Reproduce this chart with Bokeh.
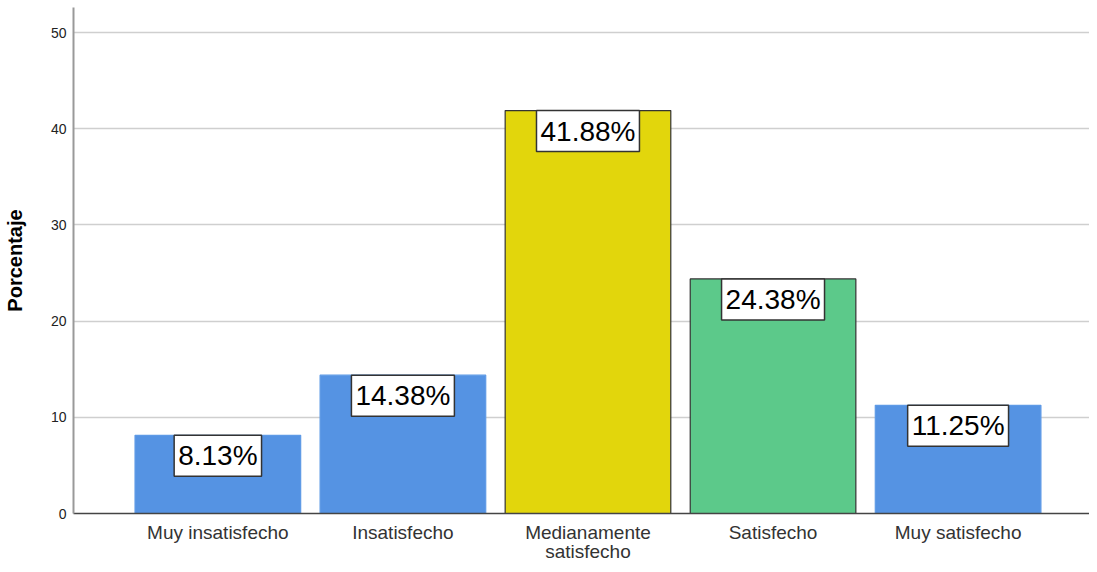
from bokeh.plotting import figure
from bokeh.models import ColumnDataSource, FixedTicker, Range1d, LinearAxis
from bokeh.embed import file_html
from bokeh.resources import INLINE
from bokeh.core.properties import value

categories = ["Muy insatisfecho", "Insatisfecho", "Medianamente\nsatisfecho", "Satisfecho", "Muy satisfecho"]
percentages = [8.13, 14.38, 41.88, 24.38, 11.25]
bar_colors = ["#5593E3", "#5593E3", "#E2D60C", "#5CC98A", "#5593E3"]
bar_lines = ["#5E9AE6", "#5E9AE6", "#333333", "#333333", "#5E9AE6"]
y_ticks = [0, 10, 20, 30, 40, 50]

xs = list(range(1, len(categories) + 1))
src = ColumnDataSource(dict(
    x=xs, top=percentages, color=bar_colors, line=bar_lines,
    label=[f"{v:.2f}%" for v in percentages],
))

# split category names into first and second line (shown on two stacked axes)
first_lines = {x: c.split("\n")[0] for x, c in zip(xs, categories)}
second_lines = {x: (c.split("\n")[1] if "\n" in c else "") for x, c in zip(xs, categories)}

p = figure(width=1089, height=564, output_backend="svg", toolbar_location=None,
           x_range=Range1d(0.22, 5.71), y_range=Range1d(0, 52.6),
           min_border_left=65, min_border_right=0, min_border_top=7, min_border_bottom=51)
p.outline_line_color = None
p.background_fill_color = "white"

p.vbar(x="x", top="top", bottom=0, width=0.895, source=src,
       fill_color="color", line_color="line", line_width=1.2)

p.text(x="x", y="top", text="label", source=src,
       text_align="center", text_baseline="top",
       text_font=value("Liberation Sans"), text_font_size="28px", text_color="black",
       background_fill_color="white", border_line_color="#333333", border_line_width=1.5,
       padding=dict(left=4, right=4, top=5, bottom=5))

def style_x(ax, standoff):
    ax.ticker = FixedTicker(ticks=xs)
    ax.major_label_text_font = "Liberation Sans"
    ax.major_label_text_font_size = "19px"
    ax.major_label_text_color = "#333333"
    ax.major_label_standoff = standoff
    ax.major_tick_out = 0
    ax.major_tick_in = 0
    ax.major_tick_line_color = None
    ax.minor_tick_line_color = None

xa = p.xaxis[0]
style_x(xa, 8)
xa.major_label_overrides = first_lines
xa.axis_line_color = "#444444"
xa.axis_line_width = 1.5

xa2 = LinearAxis()
style_x(xa2, -5)
xa2.major_label_overrides = second_lines
xa2.axis_line_color = None
p.add_layout(xa2, "below")

p.yaxis.ticker = FixedTicker(ticks=y_ticks)
p.yaxis.major_label_text_font = "Liberation Sans"
p.yaxis.major_label_text_font_size = "14px"
p.yaxis.major_label_text_color = "#222222"
p.yaxis.major_label_standoff = 7
p.yaxis.major_tick_out = 0
p.yaxis.major_tick_in = 0
p.yaxis.major_tick_line_color = None
p.yaxis.minor_tick_line_color = None
p.yaxis.axis_line_color = "#999999"
p.yaxis.axis_line_width = 2
p.yaxis.axis_label = "Porcentaje"
p.yaxis.axis_label_text_font = "Liberation Sans"
p.yaxis.axis_label_text_font_style = "bold"
p.yaxis.axis_label_text_font_size = "20px"
p.yaxis.axis_label_text_color = "black"
p.yaxis.axis_label_standoff = 22

p.xgrid.grid_line_color = None
p.ygrid.ticker = FixedTicker(ticks=y_ticks)
p.ygrid.grid_line_color = "#CFCFCF"
p.ygrid.grid_line_width = 1.5

open("out.html", "w").write(file_html(p, INLINE))
